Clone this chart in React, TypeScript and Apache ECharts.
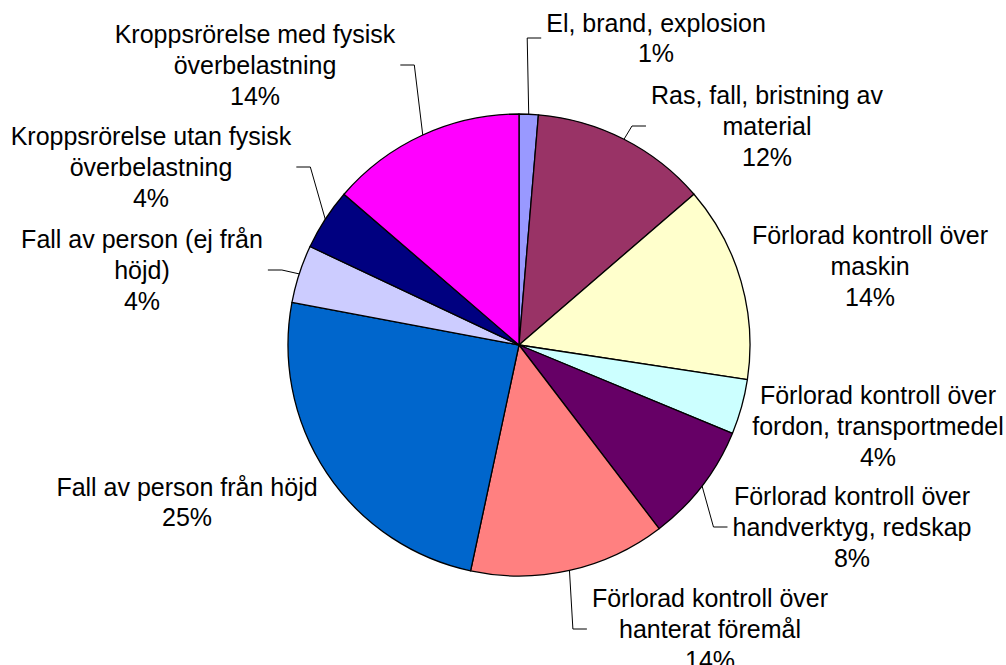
import React, { useEffect, useRef } from "react";
import * as echarts from "echarts";

// Categories (line breaks as in the reference labels)
const CATEGORIES: string[] = [
  "El, brand, explosion",
  "Ras, fall, bristning av\nmaterial",
  "Förlorad kontroll över\nmaskin",
  "Förlorad kontroll över\nfordon, transportmedel",
  "Förlorad kontroll över\nhandverktyg, redskap",
  "Förlorad kontroll över\nhanterat föremål",
  "Fall av person från höjd",
  "Fall av person (ej från\nhöjd)",
  "Kroppsrörelse utan fysisk\növerbelastning",
  "Kroppsrörelse med fysisk\növerbelastning",
];

// Shares in percent
const VALUES: number[] = [1.34, 12.34, 13.72, 3.85, 8.38, 13.73, 24.59, 4.06, 4.31, 13.68];

const COLORS: string[] = [
  "#9999FF",
  "#993366",
  "#FFFFCC",
  "#CCFFFF",
  "#660066",
  "#FF8080",
  "#0066CC",
  "#CCCCFF",
  "#000080",
  "#FF00FF",
];

// Whether each label has a leader line
const HAS_LEADER: boolean[] = [true, true, false, false, true, true, false, true, true, true];

// Label block centres (layout, not data)
const LABEL_POS: [number, number][] = [
  [656, 38],
  [767, 126],
  [870, 266],
  [878, 426],
  [852, 527],
  [710, 629],
  [187, 502],
  [142, 270],
  [151, 167],
  [255, 65],
];

const PIE_CX = 519;
const PIE_CY = 345;
const PIE_R = 231;
const FONT = "'Liberation Sans', Arial, sans-serif";

export default function App() {
  const ref = useRef<HTMLDivElement>(null);

  useEffect(() => {
    if (!ref.current) return;
    const chart = echarts.init(ref.current, undefined, { renderer: "svg" });
    const data = CATEGORIES.map((name, i) => ({
      name,
      value: VALUES[i],
      itemStyle: { color: COLORS[i] },
      labelLine: { show: HAS_LEADER[i] },
    }));
    chart.setOption({
      animation: false,
      backgroundColor: "#ffffff",
      series: [
        {
          type: "pie",
          center: [PIE_CX, PIE_CY],
          radius: PIE_R,
          startAngle: 90,
          clockwise: true,
          avoidLabelOverlap: false,
          silent: true,
          data,
          itemStyle: { borderColor: "#000000", borderWidth: 1.3 },
          label: {
            show: true,
            position: "outside",
            color: "#000000",
            fontFamily: FONT,
            fontSize: 25,
            lineHeight: 30.7,
            align: "center",
            formatter: (p: any) => `${p.name}\n${Math.round(p.percent)}%`,
          },
          labelLine: {
            show: true,
            lineStyle: { color: "#000000", width: 1 },
            length: 10,
            length2: 10,
          },
          labelLayout: (p: any) => {
            const i = p.dataIndex;
            const [x, y] = LABEL_POS[i];
            const w = p.labelRect.width;
            const res: any = { x, y, align: "center", verticalAlign: "middle" };
            if (HAS_LEADER[i] && p.labelLinePoints) {
              const edge = p.labelLinePoints[0];
              const right = x > PIE_CX;
              const side = right ? x - w / 2 : x + w / 2;
              const dir = right ? -1 : 1;
              res.labelLinePoints = [
                [edge[0], edge[1]],
                [side + dir * 19, y],
                [side + dir * 5, y],
              ];
            }
            return res;
          },
        },
      ],
    });
    return () => chart.dispose();
  }, []);

  return (
    <div
      ref={ref}
      style={{ position: "absolute", left: 0, top: 0, width: 1006, height: 665 }}
    />
  );
}
